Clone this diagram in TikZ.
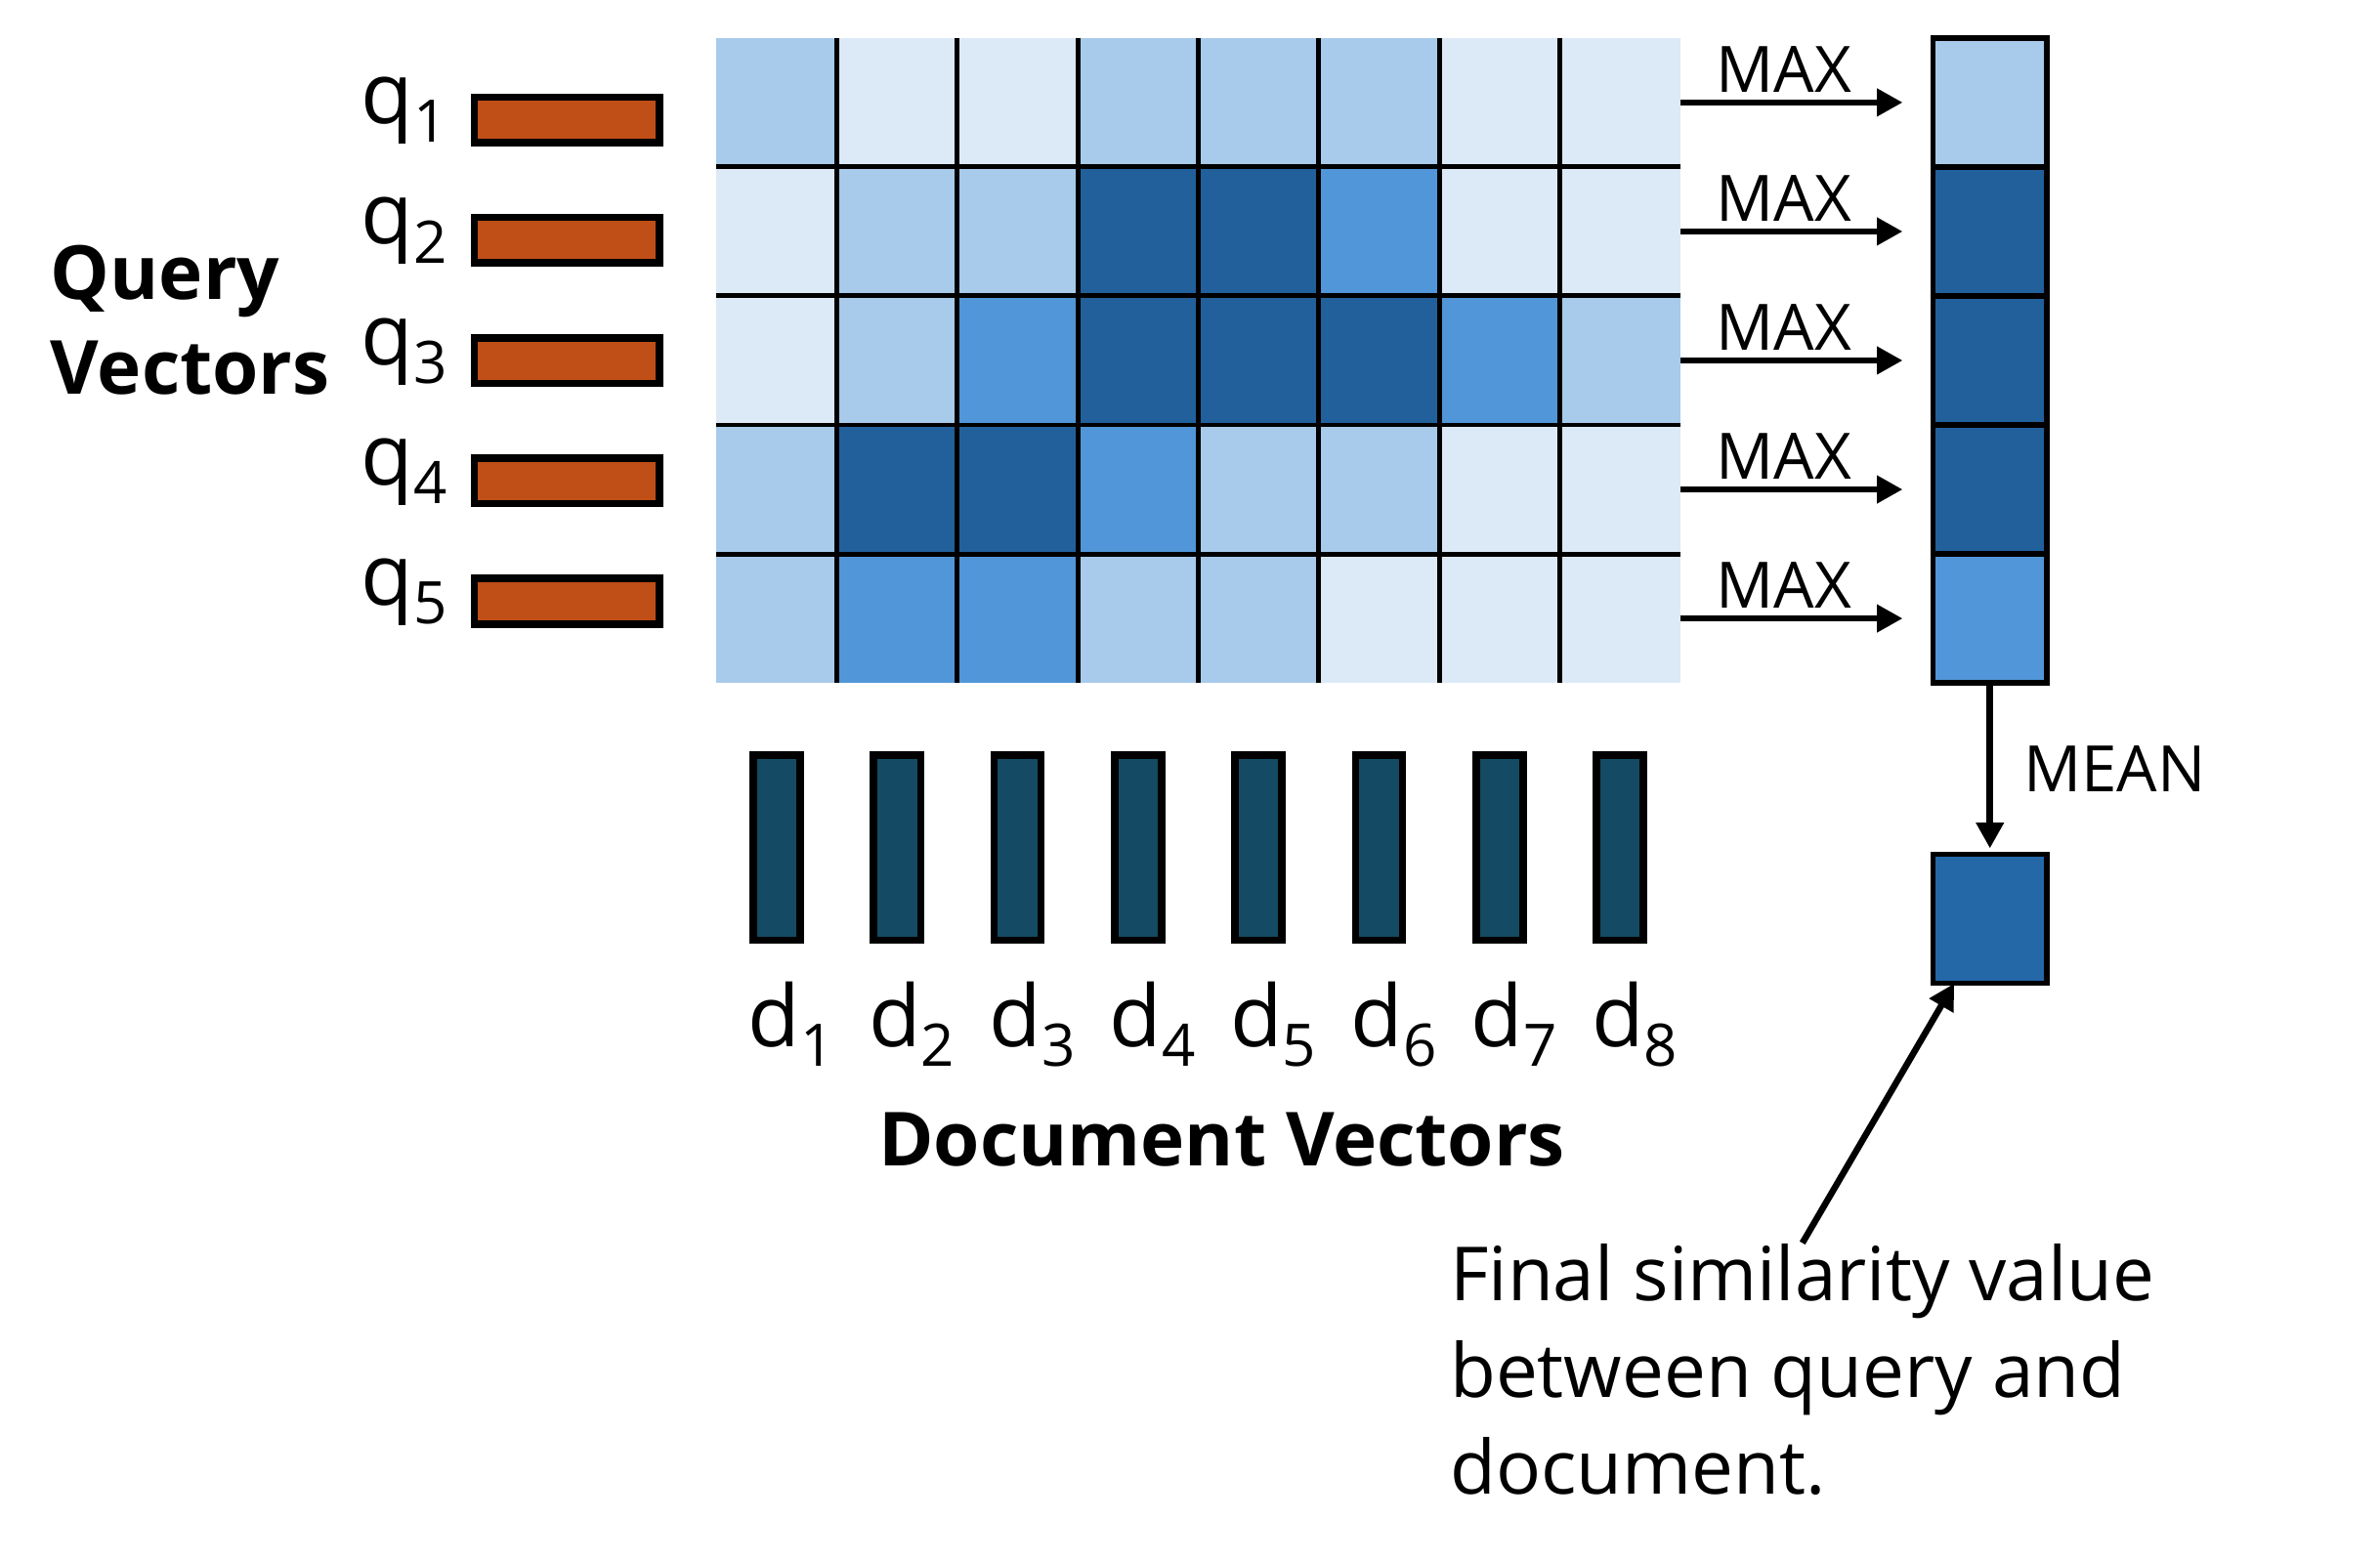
\documentclass[tikz,border=0pt]{standalone}
\usepackage{fontspec}
\setmainfont{Open Sans}
\usetikzlibrary{arrows.meta, positioning, calc}
\definecolor{cbQuery}{HTML}{BF4E17}
\definecolor{cbDoc}{HTML}{144A63}
\definecolor{cbFinal}{HTML}{2468A8}
\definecolor{heat1}{HTML}{DCE9F6}
\definecolor{heat2}{HTML}{A8CAEB}
\definecolor{heat3}{HTML}{5196D8}
\definecolor{heat4}{HTML}{22609C}
\newcommand\vsub[1]{\raisebox{-0.22em}{\fontsize{22}{22}\selectfont #1}}
\tikzset{
  cell/.style={draw=none, inner sep=0pt, outer sep=0pt,
    minimum width=1.5875cm, minimum height=1.7cm},
  gridline/.style={line width=1.8pt, black},
  maxcell/.style={cell, draw=black, line width=2pt, minimum width=1.5cm},
  qbar/.style={draw=black, line width=2.8pt, fill=cbQuery, inner sep=0pt,
    minimum width=2.44cm, minimum height=0.6cm},
  dbar/.style={draw=black, line width=2.8pt, fill=cbDoc, inner sep=0pt,
    minimum width=0.62cm, minimum height=2.44cm},
  veclabel/.style={font=\fontsize{32}{38}\selectfont, inner sep=0pt},
  title/.style={font=\fontsize{28}{35.8}\selectfont\bfseries, inner sep=0pt},
  oplabel/.style={font=\fontsize{24}{28}\selectfont, inner sep=0.5mm},
  note/.style={font=\fontsize{28}{36.4}\selectfont, align=left, inner sep=0pt},
  flow/.style={-{Triangle[length=0.34cm, width=0.35cm]}, line width=2.4pt, black}
}
\begin{document}
\begin{tikzpicture}[x=0.02cm, y=-0.02cm]
  \useasboundingbox (0,0) rectangle (1568,1029);

  % score matrix
  \foreach \row [count=\i] in {{2,1,1,2,2,2,1,1},{1,2,2,4,4,3,1,1},{1,2,3,4,4,4,3,2},{2,4,4,3,2,2,1,1},{2,3,3,2,2,1,1,1}}{
    \foreach \v [count=\j] in \row {
      \node[cell, fill=heat\v] (c-\i-\j) at ({472+79.375*(\j-0.5)},{25+85*(\i-0.5)}) {};
    }
  }
  \foreach \j in {1,...,7}
    \draw[gridline] (c-1-\j.north east) -- (c-5-\j.south east);
  \foreach \i in {1,...,4}
    \draw[gridline] (c-\i-1.south west) -- (c-\i-8.south east);

  % query vectors
  \foreach \i in {1,...,5}{
    \node[qbar] (q-\i) at (373.5,{79+79.3*(\i-1)}) {};
    \node[veclabel, anchor=base east] (ql-\i) at ([xshift=-3mm, yshift=-0.5mm]q-\i.west) {q\vsub{\i}};
  }
  \node[title, anchor=base west, align=left] (qtitle) at (33,260) {Query\\Vectors};

  % max per query
  \foreach \v [count=\i] in {2,4,4,4,3}
    \node[maxcell, fill=heat\v] (m-\i) at (1311,{25+85*(\i-0.5)}) {};
  \foreach \i in {1,...,5}
    \draw[flow, shorten >=0.4cm] (c-\i-8.east) -- node[pos=0.41, above=0.4mm, oplabel] {MAX} (m-\i.west);

  % mean
  \node[maxcell, fill=cbFinal] (final) at (1311,605.5) {};
  \draw[flow, shorten >=0.08cm] (m-5.south) -- node[right=3.5mm, oplabel] {MEAN} (final.north);

  % document vectors
  \foreach \j in {1,...,8}{
    \node[dbar] (d-\j) at ({472+79.375*(\j-0.5)},558.5) {};
    \node[veclabel, anchor=base west] (dl-\j) at ({472+79.375*(\j-0.5)-19},690) {d\vsub{\j}};
  }
  \node[title, anchor=base] (dtitle) at (805,768) {Document Vectors};

  % result
  \node[note, anchor=north west] (note) at (955,819) {Final similarity value\\between query and\\document.};
  \draw[flow] (note.north) -- ([xshift=0.28cm]final.south west);
\end{tikzpicture}
\end{document}
